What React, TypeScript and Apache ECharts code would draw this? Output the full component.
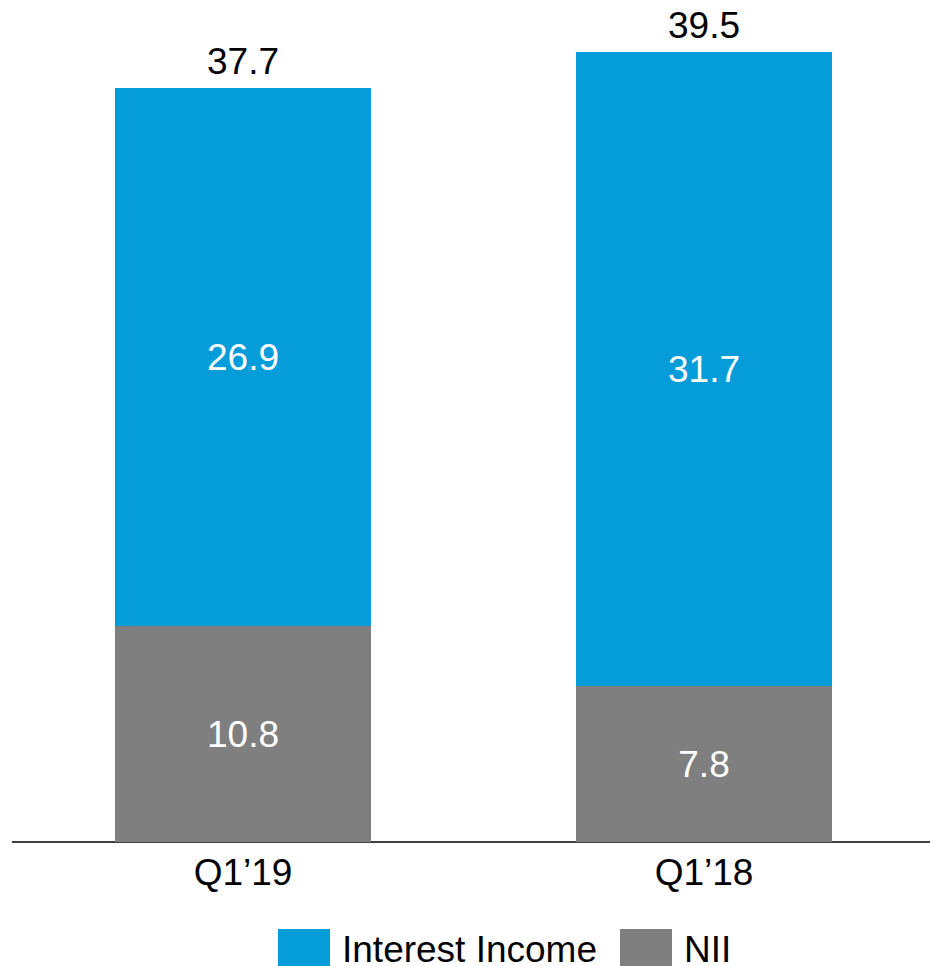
import React, { useEffect, useRef } from "react";
import * as echarts from "echarts";

const categories = ["Q1’19", "Q1’18"];
const interestIncome = [26.9, 31.7];
const nii = [10.8, 7.8];
const totals = [37.7, 39.5];

const BLUE = "#049DD9";
const GRAY = "#7F7F7F";
const FONT = "'Liberation Sans', Arial, sans-serif";

export default function App() {
  const ref = useRef<HTMLDivElement>(null);
  useEffect(() => {
    document.body.style.margin = "0";
    const chart = echarts.init(ref.current!, null, { renderer: "svg" });
    chart.setOption({
      animation: false,
      textStyle: { fontFamily: FONT },
      grid: { left: 12.5, right: 5.5, top: 2, bottom: 124, containLabel: false },
      legend: {
        data: ["Interest Income", "NII"],
        top: 929,
        left: 278,
        padding: 0,
        itemWidth: 52,
        itemHeight: 40,
        itemGap: 23,
        icon: "rect",
        textStyle: {
          fontSize: 37,
          lineHeight: 32,
          color: "#000",
          fontFamily: FONT,
          padding: [0, 0, 0, 7],
        },
      },
      xAxis: {
        type: "category",
        data: categories,
        axisLine: { show: true, lineStyle: { color: "#000", width: 1.5 } },
        axisTick: { show: false },
        axisLabel: { fontSize: 37, color: "#000", margin: 12, fontFamily: FONT },
      },
      yAxis: {
        type: "value",
        min: 0,
        max: 42,
        show: false,
        splitLine: { show: false },
      },
      series: [
        {
          name: "NII",
          type: "bar",
          stack: "total",
          data: nii,
          barWidth: 256,
          itemStyle: { color: GRAY },
          label: { show: true, position: "inside", color: "#fff", fontSize: 37, fontFamily: FONT },
        },
        {
          name: "Interest Income",
          type: "bar",
          stack: "total",
          data: interestIncome,
          barWidth: 256,
          itemStyle: { color: BLUE },
          label: { show: true, position: "inside", color: "#fff", fontSize: 37, fontFamily: FONT },
        },
        {
          name: "Total",
          type: "bar",
          data: totals,
          barWidth: 256,
          barGap: "-100%",
          z: 0,
          itemStyle: { color: "transparent" },
          label: { show: true, position: "top", distance: 8, color: "#000", fontSize: 37, fontFamily: FONT },
          silent: true,
        },
      ],
    });
    return () => chart.dispose();
  }, []);
  return (
    <div style={{ width: 930, height: 966, overflow: "hidden" }}>
      <div ref={ref} style={{ width: 940, height: 966 }} />
    </div>
  );
}
